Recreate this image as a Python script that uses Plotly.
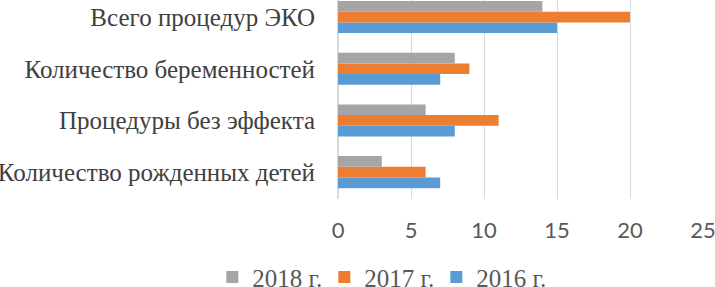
import plotly.graph_objects as go

categories = ["Количество рожденных детей", "Процедуры без эффекта",
              "Количество беременностей", "Всего процедур ЭКО"]
v2016 = [7, 8, 7, 15]
v2017 = [6, 11, 9, 20]
v2018 = [3, 6, 8, 14]
series_names = ["2016 г.", "2017 г.", "2018 г."]
colors = ["#5B9BD5", "#ED7D31", "#A5A5A5"]
x_ticks = [0, 5, 10, 15, 20, 25]

fig = go.Figure()
for name, vals, c in zip(series_names, [v2016, v2017, v2018], colors):
    fig.add_trace(go.Bar(y=categories, x=vals, name=name, orientation="h",
                         marker=dict(color=c, line=dict(width=0))))

fig.update_layout(
    width=715, height=287,
    margin=dict(l=338, r=12, t=0, b=88, autoexpand=False),
    paper_bgcolor="white", plot_bgcolor="white",
    barmode="group", bargap=0.38, bargroupgap=0,
    showlegend=True,
    legend=dict(orientation="h", traceorder="reversed", x=0.116, xanchor="center",
                y=-0.393, yanchor="middle",
                font=dict(family="Liberation Serif", size=25, color="#595959"),
                itemwidth=30, entrywidth=67, entrywidthmode="pixels"),
    xaxis=dict(range=[0, 25], tickvals=x_ticks, showgrid=True, gridcolor="#D9D9D9",
               gridwidth=1, zeroline=True, zerolinecolor="#D9D9D9", showline=False,
               tickfont=dict(family="Lato", size=22, color="#595959"),
               ticklabelstandoff=16, automargin=False, ticklabeloverflow="allow"),
    yaxis=dict(type="category", range=[-0.52, 3.33], showgrid=False, zeroline=False,
               showline=False,
               tickfont=dict(family="Liberation Serif", size=25, color="#404040"),
               ticklabelstandoff=22, automargin=False),
)
fig.write_html("out.html", config={"displayModeBar": False},
               post_script="document.body.style.margin='0px';document.body.style.overflow='hidden';")
